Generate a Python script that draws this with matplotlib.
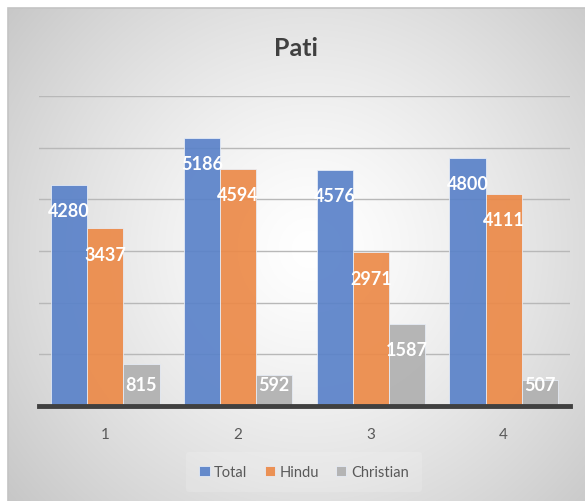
import numpy as np
import matplotlib.pyplot as plt
from matplotlib.patches import Rectangle

# chart data
categories = ['1', '2', '3', '4']
total = [4280, 5186, 4576, 4800]
hindu = [3437, 4594, 2971, 4111]
christian = [815, 592, 1587, 507]
series_names = ['Total', 'Hindu', 'Christian']
colors = ['#5a82c9', '#ec8a48', '#b0b0b0']

plt.rcParams['font.family'] = ['Lato', 'DejaVu Sans']

W, H = 585, 502
fig = plt.figure(figsize=(W / 100, H / 100), dpi=100)
fig.patch.set_facecolor('white')

# grey panel with a radial gradient, white in the middle
px0, py0 = 8, 9
bg = fig.add_axes([px0 / W, 0, 1 - px0 / W, 1 - py0 / H], zorder=-10)
yy, xx = np.mgrid[py0:H, px0:W]
r = np.sqrt((xx - 310.0) ** 2 + (yy - 250.0) ** 2) / 386.0
shade = 255 - 55 * np.clip(r, 0, 1.1) ** 1.33
img = np.dstack([shade, shade, shade]).astype(np.uint8)
bg.imshow(img, aspect='auto', interpolation='bilinear')
bg.set_axis_off()
fig.add_artist(Rectangle((px0 / W, -0.01), 1.0, 1 - py0 / H + 0.01,
                         transform=fig.transFigure, fill=False,
                         edgecolor='#c4c4c4', lw=1.2, zorder=-5))

ax = fig.add_axes([39 / W, (H - 407) / H, (570 - 39) / W, (407 - 97) / H])
ax.patch.set_alpha(0)

x = np.arange(len(categories))
width = 0.272
data = [total, hindu, christian]
for k, (vals, name, col) in enumerate(zip(data, series_names, colors)):
    pos = x + (k - 1) * width
    ax.bar(pos, vals, width, color=col, alpha=0.92, edgecolor='#e8eef8',
           linewidth=0.6, label=name, zorder=2)
    for xp, v in zip(pos, vals):
        ax.text(xp, max(v - 500, 425), str(v), ha='center', va='center',
                color='white', fontsize=13, fontweight='bold', zorder=4)

ax.set_xlim(-0.5, 3.5)
ax.set_ylim(0, 6000)
ax.set_yticks(np.arange(0, 6001, 1000))
ax.set_yticklabels([])
ax.tick_params(axis='y', length=0)
ax.grid(axis='y', color='#b8b8b8', lw=1.0, zorder=0)
ax.set_axisbelow(True)
ax.set_xticks(x)
ax.set_xticklabels(categories, fontsize=11, color='#595959')
ax.tick_params(axis='x', length=0, pad=15)
for s in ['top', 'right', 'left']:
    ax.spines[s].set_visible(False)
ax.spines['bottom'].set_color('#404040')
ax.spines['bottom'].set_linewidth(3.5)
ax.spines['bottom'].set_zorder(5)

fig.text(0.5 + 4 / W, (H - 49) / H, 'Pati', ha='center', va='center',
         fontsize=18, fontweight='bold', color='#404040')

leg = fig.legend(loc='center', bbox_to_anchor=(304 / W, (H - 473) / H),
                 ncol=3, frameon=True, fontsize=10.5, handlelength=0.7,
                 handleheight=0.7, handletextpad=0.3, columnspacing=1.2,
                 borderpad=0.9)
leg.get_frame().set_facecolor('white')
leg.get_frame().set_alpha(0.15)
leg.get_frame().set_edgecolor('none')
for t in leg.get_texts():
    t.set_color('#595959')

fig.savefig('out.png', dpi=100)
